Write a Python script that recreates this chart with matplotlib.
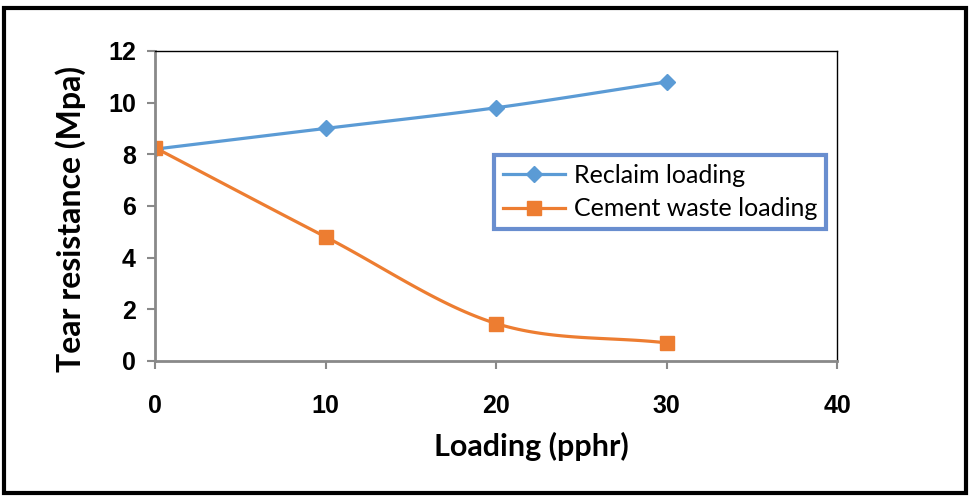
import numpy as np
import matplotlib.pyplot as plt
from matplotlib.patches import Rectangle

# loading levels (pphr) and tear resistance (Mpa)
loading = [0, 10, 20, 30]
reclaim = [8.2, 9.0, 9.8, 10.8]
cement = [8.25, 4.8, 1.45, 0.7]

x_ticks = [0, 10, 20, 30, 40]
y_ticks = [0, 2, 4, 6, 8, 10, 12]

blue = '#5B9BD5'
orange = '#ED7D31'


def smooth(xs, ys, n=40):
    # Catmull-Rom curve through the points, like a spreadsheet "smoothed line"
    xs = np.asarray(xs, float)
    ys = np.asarray(ys, float)
    px = np.concatenate([[2 * xs[0] - xs[1]], xs, [2 * xs[-1] - xs[-2]]])
    py = np.concatenate([[2 * ys[0] - ys[1]], ys, [2 * ys[-1] - ys[-2]]])
    outx, outy = [], []
    for i in range(1, len(px) - 2):
        t = np.linspace(0, 1, n)
        for p, out in ((px, outx), (py, outy)):
            p0, p1, p2, p3 = p[i - 1], p[i], p[i + 1], p[i + 2]
            out.extend(0.5 * ((2 * p1) + (-p0 + p2) * t
                              + (2 * p0 - 5 * p1 + 4 * p2 - p3) * t ** 2
                              + (-p0 + 3 * p1 - 3 * p2 + p3) * t ** 3))
    return outx, outy


fig = plt.figure(figsize=(9.7, 4.99), dpi=100)
ax = fig.add_axes([0.16, 0.2766, 0.703, 0.6214])

sx, sy = smooth(loading, reclaim)
ax.plot(sx, sy, color=blue, lw=2.3)
ax.plot(loading, reclaim, ls='none', marker='D', ms=8, color=blue)
ax.plot([], [], color=blue, lw=2.3, marker='D', ms=8, label='Reclaim loading')

sx, sy = smooth(loading, cement)
ax.plot(sx, sy, color=orange, lw=2.3)
ax.plot(loading, cement, ls='none', marker='s', ms=10, color=orange)
ax.plot([], [], color=orange, lw=2.3, marker='s', ms=10, label='Cement waste loading')

ax.set_xlim(0, 40)
ax.set_ylim(0, 12)
ax.set_xticks(x_ticks)
ax.set_yticks(y_ticks)
ax.set_xticklabels([str(v) for v in x_ticks], family='Liberation Sans',
                   fontweight='bold', fontsize=18)
ax.set_yticklabels([str(v) for v in y_ticks], family='Liberation Sans',
                   fontweight='bold', fontsize=18)

for side in ('left', 'bottom'):
    ax.spines[side].set_color('#898989')
    ax.spines[side].set_linewidth(2)
for side in ('top', 'right'):
    ax.spines[side].set_color('black')
    ax.spines[side].set_linewidth(1)

ax.tick_params(axis='both', direction='out', length=6, width=1.5, color='#898989')
ax.tick_params(axis='x', pad=18)
ax.tick_params(axis='y', pad=8)

ax.set_xlabel('Loading (pphr)', fontsize=22, fontweight='bold', family='Lato', va='center')
ax.set_ylabel('Tear resistance (Mpa)', fontsize=23, fontweight='bold', family='Lato', va='center')
ax.xaxis.set_label_coords(0.551, -0.277)
ax.yaxis.set_label_coords(-0.124, 0.458)

leg = ax.legend(loc='upper left', bbox_to_anchor=(0.497, 0.664), frameon=True, fancybox=False,
                prop={'family': 'Lato', 'size': 18}, handlelength=2.5, borderpad=0.35,
                labelspacing=0.42, handletextpad=0.35, borderaxespad=0)
leg.get_frame().set_edgecolor('#4472C4')
leg.get_frame().set_linewidth(3)

fig.patches.append(Rectangle((0.004, 0.012), 0.992, 0.972, transform=fig.transFigure,
                             fill=False, edgecolor='black', lw=3))

fig.savefig('out.png', dpi=100)
